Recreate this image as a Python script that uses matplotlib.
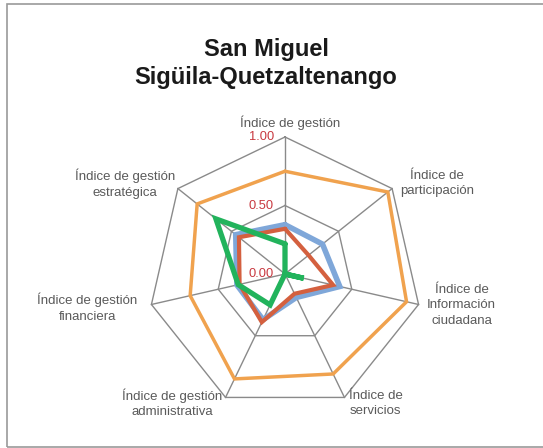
import numpy as np
import matplotlib
matplotlib.use("Agg")
import matplotlib.pyplot as plt
from matplotlib.patches import Rectangle

categories = ["Índice de gestión", "Índice de\nparticipación", "Índice de\nInformación\nciudadana",
              "Índice de\nservicios", "Índice de gestión\nadministrativa", "Índice de gestión\nfinanciera",
              "Índice de gestión\nestratégica"]
orange = [0.75, 0.96, 0.91, 0.81, 0.85, 0.71, 0.82]
blue = [0.36, 0.35, 0.41, 0.19, 0.37, 0.36, 0.46]
red = [0.33, 0.22, 0.36, 0.16, 0.39, 0.34, 0.43]
green = [0.22, 0.00, 0.14, 0.00, 0.25, 0.35, 0.645]
tick_values = [0.0, 0.5, 1.0]
tick_labels = ["0.00", "0.50", "1.00"]
title = "San Miguel\nSigüila-Quetzaltenango"

W, H = 543, 448
fig = plt.figure(figsize=(W / 100, H / 100), dpi=100)
fig.patch.set_facecolor("white")

# border
fig.patches.append(Rectangle((7 / W, 1.5 / H), 1.2, (444 - 1.5) / H, transform=fig.transFigure,
                             fill=False, edgecolor="#9a9a9a", linewidth=1.2))

cx, cy, R = 285, 448 - 274, 137
L = 175
ax = fig.add_axes([(cx - L) / W, (cy - L) / H, 2 * L / W, 2 * L / H])
ax.set_xlim(-L / R, L / R)
ax.set_ylim(-L / R, L / R)
ax.set_aspect("equal")
ax.axis("off")

n = len(categories)
ang = np.arange(n) * 2 * np.pi / n
dx, dy = np.sin(ang), np.cos(ang)

def closed(v):
    v = np.asarray(v, float)
    return np.append(v * dx, v[0] * dx[0]), np.append(v * dy, v[0] * dy[0])

grid_c = "#8a8a8a"
for t in [0.5, 1.0]:
    x, y = closed([t] * n)
    ax.plot(x, y, color=grid_c, lw=1.0, zorder=1)
for i in range(n):
    ax.plot([0, dx[i]], [0, dy[i]], color=grid_c, lw=1.0, zorder=1)

series = [(blue, "#7fa7d9", 4.0), (red, "#d4603f", 3.0), (orange, "#f0a24e", 2.5), (green, "#22b35c", 3.8)]
for vals, col, lw in series:
    x, y = closed(vals)
    ax.plot(x, y, color=col, lw=lw, solid_joinstyle="miter", solid_capstyle="round", zorder=3)

for v, lab in zip(tick_values, tick_labels):
    ax.text(-0.08, v, lab, ha="right", va="center", color="#c8383f", fontsize=9.3,
            family="Liberation Sans", zorder=5)

# category label offsets from each outer vertex, in screen pixels (x right, y down)
offsets = [(5, -14), (45, -5), (43, 1), (31, 6), (-53, 6), (-64, 3), (-53, -5)]
for i, lab in enumerate(categories):
    ox, oy = offsets[i]
    px = dx[i] + ox / R
    py = dy[i] - oy / R
    ax.text(px, py, lab, ha="center", va="center", color="#5a5a5a", fontsize=9.5,
            family="Liberation Sans", linespacing=1.4, clip_on=False)

fig.text(266 / W, 1 - 63.5 / H, title, ha="center", va="center", fontsize=17, fontweight="bold",
         family="Liberation Sans", color="#1a1a1a", linespacing=1.25)

fig.savefig("out.png", dpi=100, facecolor="white")
